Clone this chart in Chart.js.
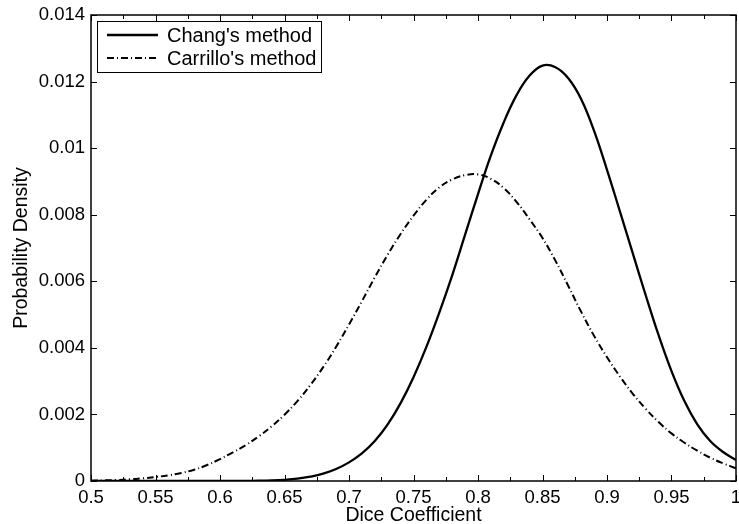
<!DOCTYPE html>
<html>
<head>
<meta charset="utf-8">
<script src="https://cdn.jsdelivr.net/npm/chart.js@4.4.1/dist/chart.umd.min.js"></script>
<style>
  html, body { margin: 0; padding: 0; background: #fff; }
  #wrap { width: 739px; height: 524px; position: relative; }
</style>
</head>
<body>
<div id="wrap"><canvas id="pdfChart"></canvas></div>
<script>
// dice coefficient samples (x)
const diceValues = [
  0.50, 0.51, 0.52, 0.53, 0.54, 0.55, 0.56, 0.57, 0.58, 0.59,
  0.60, 0.61, 0.62, 0.63, 0.64, 0.65, 0.66, 0.67, 0.68, 0.69,
  0.70, 0.71, 0.72, 0.73, 0.74, 0.75, 0.76, 0.77, 0.78, 0.79,
  0.80, 0.81, 0.82, 0.83, 0.84, 0.85, 0.86, 0.87, 0.88, 0.89,
  0.90, 0.91, 0.92, 0.93, 0.94, 0.95, 0.96, 0.97, 0.98, 0.99, 1.00
];

const changDensity = [
  0, 0, 0, 0, 0, 0, 0, 0, 0, 0.000001,
  0.000001, 0.000002, 0.000003, 0.000007, 0.000016, 0.000035, 0.00007, 0.00013, 0.00022, 0.00036,
  0.00056, 0.00083, 0.00120, 0.00170, 0.00234, 0.00312, 0.00403, 0.00506, 0.00618, 0.00740,
  0.00862, 0.00978, 0.01078, 0.01160, 0.01218, 0.01248, 0.01243, 0.01210, 0.01147, 0.01052,
  0.00935, 0.00810, 0.00684, 0.00558, 0.00438, 0.00330, 0.00240, 0.00170, 0.00120, 0.00087, 0.00063
];

const carrilloDensity = [
  0.00001, 0.00002, 0.00003, 0.00005, 0.00008, 0.00012, 0.00017, 0.00024, 0.00034, 0.00048,
  0.00066, 0.00086, 0.00108, 0.00134, 0.00164, 0.00199, 0.00240, 0.00288, 0.00342, 0.00403,
  0.00470, 0.00540, 0.00612, 0.00680, 0.00742, 0.00797, 0.00845, 0.00882, 0.00906, 0.00919,
  0.00921, 0.00908, 0.00880, 0.00838, 0.00786, 0.00730, 0.00662, 0.00586, 0.00508, 0.00436,
  0.00372, 0.00314, 0.00262, 0.00217, 0.00177, 0.00143, 0.00115, 0.00091, 0.00070, 0.00053, 0.00038
];

const seriesNames = ["Chang's method", "Carrillo's method"];
const xTitle = "Dice Coefficient";
const yTitle = "Probability Density";

const FONT = '"Liberation Sans", Arial, Helvetica, sans-serif';

const toPoints = ys => diceValues.map((x, i) => ({ x, y: ys[i] }));

// MATLAB-ish box: inward ticks all round, legend box top-left
const matlabBox = {
  id: 'matlabBox',
  afterDatasetsDraw(chart) {
    const { ctx, chartArea: a, scales: { x, y } } = chart;
    ctx.save();
    ctx.strokeStyle = '#000';
    ctx.lineWidth = 1;
    x.ticks.forEach(t => {
      const px = Math.round(x.getPixelForValue(t.value)) + 0.5;
      const major = t.label !== '';
      const len = major ? 6 : 4;
      ctx.beginPath();
      ctx.moveTo(px, a.bottom); ctx.lineTo(px, a.bottom - len);
      ctx.moveTo(px, a.top); ctx.lineTo(px, a.top + len);
      ctx.stroke();
    });
    y.ticks.forEach(t => {
      const py = Math.round(y.getPixelForValue(t.value)) + 0.5;
      ctx.beginPath();
      ctx.moveTo(a.left, py); ctx.lineTo(a.left + 6, py);
      ctx.moveTo(a.right, py); ctx.lineTo(a.right - 6, py);
      ctx.stroke();
    });
    ctx.lineWidth = 1.5;
    ctx.strokeRect(a.left, a.top, a.right - a.left, a.bottom - a.top);
    ctx.restore();
  },
  afterDraw(chart) {
    const { ctx, chartArea: a } = chart;
    const bx = a.left + 6, by = a.top + 6, bw = 224, bh = 51;
    ctx.save();
    ctx.fillStyle = '#fff';
    ctx.fillRect(bx, by, bw, bh);
    ctx.strokeStyle = '#000';
    ctx.lineWidth = 1;
    ctx.strokeRect(bx + 0.5, by + 0.5, bw, bh);
    chart.data.datasets.forEach((ds, i) => {
      const cy = by + 14 + i * 23;
      ctx.beginPath();
      ctx.setLineDash(ds.borderDash || []);
      ctx.lineWidth = ds.borderWidth;
      ctx.moveTo(bx + 10, cy); ctx.lineTo(bx + 61, cy);
      ctx.stroke();
      ctx.setLineDash([]);
      ctx.fillStyle = '#000';
      ctx.font = '20px ' + FONT;
      ctx.textBaseline = 'middle';
      ctx.textAlign = 'left';
      ctx.fillText(ds.label, bx + 70, cy + 1);
    });
    ctx.restore();
  }
};

new Chart(document.getElementById('pdfChart').getContext('2d'), {
  type: 'line',
  data: {
    datasets: [
      {
        label: seriesNames[0],
        data: toPoints(changDensity),
        borderColor: '#000',
        borderWidth: 2.3,
        pointRadius: 0,
        tension: 0.4,
        fill: false
      },
      {
        label: seriesNames[1],
        data: toPoints(carrilloDensity),
        borderColor: '#000',
        borderWidth: 2,
        borderDash: [7, 3, 1, 3],
        pointRadius: 0,
        tension: 0.4,
        fill: false
      }
    ]
  },
  options: {
    responsive: true,
    maintainAspectRatio: false,
    animation: false,
    layout: { padding: { left: 0, right: 3, top: 15, bottom: 0 } },
    plugins: {
      legend: { display: false },
      tooltip: { enabled: false }
    },
    scales: {
      x: {
        type: 'linear',
        min: 0.5,
        max: 1,
        grid: { display: false, drawTicks: false },
        border: { display: false },
        ticks: {
          stepSize: 0.025,
          autoSkip: false,
          maxRotation: 0,
          padding: 6,
          color: '#000',
          font: { family: FONT, size: 18.5 },
          callback: v => {
            const r = Math.round(v * 1000);
            return r % 50 === 0 ? String(r / 1000) : '';
          }
        },
        title: {
          display: true,
          text: xTitle,
          color: '#000',
          font: { family: FONT, size: 19.5, lineHeight: 0.85 },
          padding: { top: 0, bottom: 0 }
        },
        afterFit: s => { s.height = 43; s.paddingLeft = 0; s.paddingRight = 0; }
      },
      y: {
        min: 0,
        max: 0.014,
        grid: { display: false, drawTicks: false },
        border: { display: false },
        ticks: {
          stepSize: 0.002,
          padding: 6,
          color: '#000',
          font: { family: FONT, size: 18.5 },
          callback: v => String(Math.round(v * 1000) / 1000)
        },
        title: {
          display: true,
          text: yTitle,
          color: '#000',
          font: { family: FONT, size: 19.5, lineHeight: 0.85 },
          padding: { top: 13, bottom: 0 }
        },
        afterFit: s => { s.width = 91; s.paddingTop = 0; s.paddingBottom = 0; }
      }
    }
  },
  plugins: [matlabBox]
});
</script>
</body>
</html>
